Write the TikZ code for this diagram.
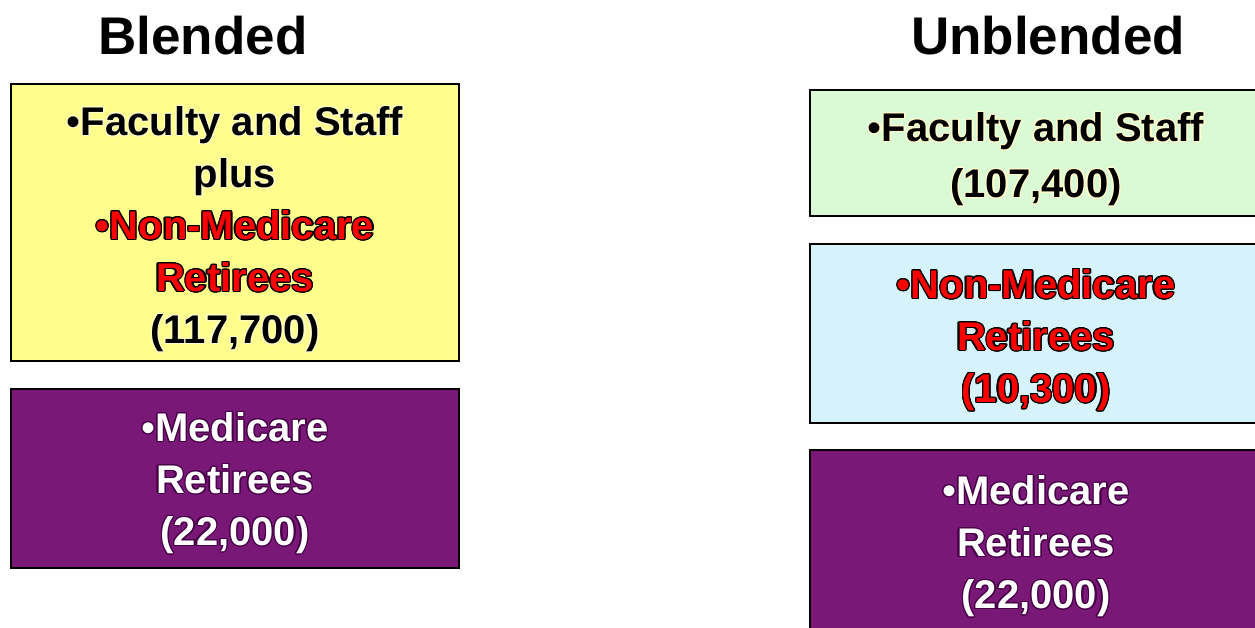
\documentclass[tikz,border=0pt]{standalone}
\usepackage{fontspec}
\setmainfont{Liberation Sans}
\usepackage{contour}
\contourlength{1.2pt}
\definecolor{boxyellow}{RGB}{255,253,140}
\definecolor{boxgreen}{RGB}{218,250,214}
\definecolor{boxblue}{RGB}{214,243,252}
\definecolor{boxpurple}{RGB}{122,24,120}
\definecolor{glowpurple}{RGB}{70,0,70}
\newcommand\bul{{\mdseries •}}
\newcommand\rdln[1]{\contour{black}{\textcolor{red}{#1}}}
\newcommand\bkln[1]{\contour{white!80!yellow}{\textcolor{black}{#1}}}
\newcommand\wtln[1]{\contour{glowpurple}{\textcolor{white}{#1}}}
\tikzset{
  x=1pt, y=-1pt,
  title/.style={font=\fontsize{53}{60}\selectfont\bfseries, inner sep=0pt},
  card/.style={draw=black, line width=1.6pt, rectangle, inner sep=0pt},
  cardtext/.style={inner sep=0pt, align=center, font=\fontsize{40}{52}\selectfont\bfseries},
}
\begin{document}
\begin{tikzpicture}
\useasboundingbox (0,0) rectangle (1255,627);
\node[title] (tblend) at (203,36) {Blended};
\node[title] (tunblend) at (1048,36) {Unblended};
% left column
\node[card, fill=boxyellow, minimum width=448pt, minimum height=277pt] (ly) at (235,222.5) {};
\node[cardtext] (lyt) at ([yshift=-7pt]ly.center)
  {\bkln{\bul Faculty and Staff}\\ \bkln{plus}\\ \rdln{\bul Non-Medicare}\\ \rdln{Retirees}\\ \bkln{(117,700)}};
\node[card, fill=boxpurple, minimum width=448pt, minimum height=179pt] (lp) at (235,478.5) {};
\node[cardtext] (lpt) at ([yshift=-5pt]lp.center)
  {\wtln{\bul Medicare}\\ \wtln{Retirees}\\ \wtln{(22,000)}};
% right column
\node[card, fill=boxgreen, minimum width=452pt, minimum height=126pt] (rg) at (1036,153) {};
\node[cardtext] (rgt) at ([yshift=-7pt]rg.center)
  {\bkln{\bul Faculty and Staff}\\[4pt] \bkln{(107,400)}};
\node[card, fill=boxblue, minimum width=452pt, minimum height=179pt] (rb) at (1036,333.5) {};
\node[cardtext] (rbt) at ([yshift=-7pt]rb.center)
  {\rdln{\bul Non-Medicare}\\ \rdln{Retirees}\\ \rdln{(10,300)}};
\node[card, fill=boxpurple, minimum width=452pt, minimum height=190pt] (rp) at (1036,545) {};
\node[cardtext] (rpt) at ([yshift=-2pt]rp.center)
  {\wtln{\bul Medicare}\\ \wtln{Retirees}\\ \wtln{(22,000)}};
\end{tikzpicture}
\end{document}
